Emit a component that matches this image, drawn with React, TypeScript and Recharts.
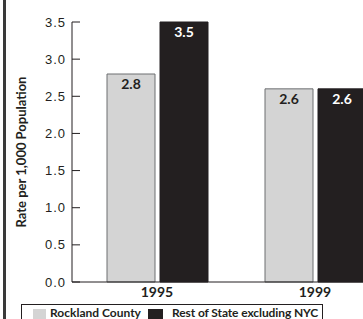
import { BarChart, Bar, XAxis, YAxis, LabelList } from "recharts";

const years = ["1995", "1999"];
const rockland = [2.8, 2.6];
const restOfState = [3.5, 2.6];
const yTicks = [0, 0.5, 1, 1.5, 2, 2.5, 3, 3.5];
const legendNames = ["Rockland County", "Rest of State excluding NYC"];
const yTitle = "Rate per 1,000 Population";

const data = years.map((year, i) => ({ year, rockland: rockland[i], rest: restOfState[i] }));

const FONT = "Lato, 'DejaVu Sans', sans-serif";
const INK = "#231f20";
const GRAY = "#d4d4d4";

const YTick = (props: any) => {
  const { x, y, payload } = props;
  return (
    <g>
      <line x1={x + 6} x2={x + 14} y1={y} y2={y} stroke={INK} strokeWidth={1} />
      <text
        x={x}
        y={y}
        dy="0.35em"
        textAnchor="end"
        fontSize={13}
        letterSpacing={1}
        fill={INK}
        fontFamily="'Liberation Sans', Arial, sans-serif"
      >
        {payload.value.toFixed(1)}
      </text>
    </g>
  );
};

const YTitle = (props: any) => {
  const { viewBox } = props;
  const cx = viewBox.x + viewBox.width - 51;
  const cy = viewBox.y + viewBox.height / 2;
  return (
    <text
      x={cx}
      y={cy}
      transform={`rotate(-90 ${cx} ${cy})`}
      textAnchor="middle"
      dominantBaseline="central"
      fontSize={13}
      fontWeight={700}
      fill={INK}
      fontFamily={FONT}
    >
      {yTitle}
    </text>
  );
};

const LegendBox = () => (
  <div
    style={{
      position: "absolute",
      left: 21,
      top: 304,
      width: 302,
      height: 24,
      border: `1px solid ${INK}`,
      boxSizing: "border-box",
      fontFamily: FONT,
      fontWeight: 700,
      fontSize: 12,
      color: INK,
      whiteSpace: "nowrap",
    }}
  >
    <span style={{ position: "absolute", left: 11, top: 4, width: 13, height: 14, background: GRAY }} />
    <span style={{ position: "absolute", left: 28, top: 1, lineHeight: "14px" }}>{legendNames[0]}</span>
    <span style={{ position: "absolute", left: 126, top: 4, width: 15, height: 14, background: INK }} />
    <span style={{ position: "absolute", left: 150, top: 1, lineHeight: "14px", letterSpacing: -0.1 }}>
      {legendNames[1]}
    </span>
  </div>
);

export default function App() {
  return (
    <div style={{ position: "fixed", left: 0, top: 0, width: 363, height: 319, overflow: "hidden", background: "#fff" }}>
      <div style={{ position: "absolute", left: 3, top: 0, width: 3, height: 319, background: "#3a3a3a" }} />
      <BarChart
        width={400}
        height={319}
        data={data}
        margin={{ top: 22, right: 6, bottom: 17, left: 0 }}
        barSize={48}
        barGap={5}
      >
        <XAxis
          dataKey="year"
          padding={{ left: 6, right: 0 }}
          tickLine={false}
          tickSize={0}
          tickMargin={5}
          height={20}
          axisLine={{ stroke: INK }}
          tick={{ fontSize: 14, fontWeight: 700, fill: INK, fontFamily: FONT }}
        />
        <YAxis
          width={72}
          domain={[0, 3.5]}
          ticks={yTicks}
          interval={0}
          tickSize={0}
          tickMargin={6}
          tickLine={false}
          axisLine={{ stroke: INK }}
          tick={<YTick />}
          label={<YTitle />}
        />
        <Bar dataKey="rockland" fill={GRAY} stroke="#6d6e71" strokeWidth={1} isAnimationActive={false}>
          <LabelList
            dataKey="rockland"
            position="insideTop"
            offset={5}
            formatter={(v: any) => Number(v).toFixed(1)}
            style={{ fontSize: 14, fontWeight: 700, fill: INK, fontFamily: FONT }}
          />
        </Bar>
        <Bar dataKey="rest" fill={INK} stroke={INK} strokeWidth={1} isAnimationActive={false}>
          <LabelList
            dataKey="rest"
            position="insideTop"
            offset={5}
            formatter={(v: any) => Number(v).toFixed(1)}
            style={{ fontSize: 14, fontWeight: 700, fill: "#ffffff", fontFamily: FONT }}
          />
        </Bar>
      </BarChart>
      <LegendBox />
    </div>
  );
}
